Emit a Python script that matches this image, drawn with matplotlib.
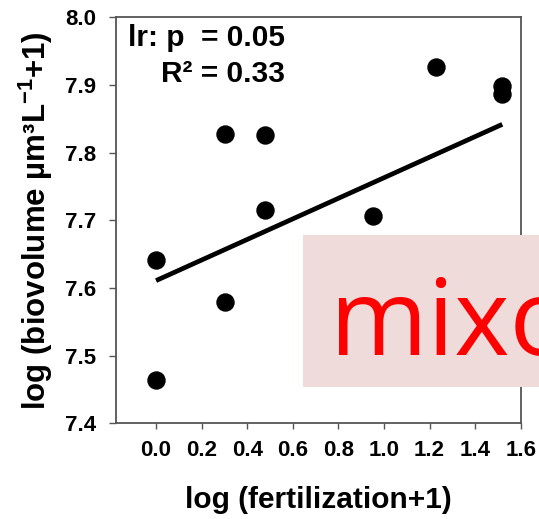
import numpy as np
import matplotlib.pyplot as plt
from matplotlib.patches import Rectangle

plt.rcParams['font.family'] = ['Liberation Sans', 'DejaVu Sans']
plt.rcParams['mathtext.fontset'] = 'custom'
plt.rcParams['mathtext.rm'] = 'Liberation Sans:bold'
plt.rcParams['mathtext.default'] = 'rm'

# data
fert_log = [0.0, 0.0, 0.301, 0.301, 0.477, 0.477, 0.954, 1.230, 1.519, 1.519]
biovol_log = [7.642, 7.464, 7.580, 7.828, 7.826, 7.715, 7.706, 7.927, 7.899, 7.887]
fit_x = [0.0, 1.519]
fit_y = [7.611, 7.842]
xticks = [0.0, 0.2, 0.4, 0.6, 0.8, 1.0, 1.2, 1.4, 1.6]
yticks = [7.4, 7.5, 7.6, 7.7, 7.8, 7.9, 8.0]

fig = plt.figure(figsize=(5.39, 5.19), dpi=100)
ax = fig.add_axes([0.2147, 0.1844, 0.7514, 0.7819])

ax.plot(fit_x, fit_y, color='black', lw=3.4, solid_capstyle='butt', zorder=2)
ax.scatter(fert_log, biovol_log, s=150, color='black', zorder=3)

ax.set_xlim(-0.177, 1.6)
ax.set_ylim(7.4, 8.0)
ax.set_xticks(xticks)
ax.set_yticks(yticks)
ax.set_xticklabels(['%.1f' % v for v in xticks], fontsize=16, fontweight='bold')
ax.set_yticklabels(['%.1f' % v for v in yticks], fontsize=16, fontweight='bold')
ax.tick_params(direction='out', width=1, color='#555555')
ax.tick_params(axis='x', length=4, pad=8)
ax.tick_params(axis='y', length=5, pad=9)
for s in ax.spines.values():
    s.set_color('#555555')
    s.set_linewidth(1.3)

ax.set_xlabel('log (fertilization+1)', fontsize=21.5, fontweight='bold', labelpad=18)
ax.set_ylabel('log (biovolume µm³L$^{-1}$+1)', fontsize=22.5, fontweight='bold', labelpad=7)

ax.text(0.417, 0.93, 'lr: p  = 0.05', transform=ax.transAxes, ha='right', va='baseline',
        fontsize=21.5, fontweight='bold')
ax.text(0.417, 0.842, 'R² = 0.33', transform=ax.transAxes, ha='right', va='baseline',
        fontsize=21.5, fontweight='bold')

# pink "mixo" label box sticking out past the axes
fig.add_artist(Rectangle((303 / 539, 1 - 387 / 519), 0.5, 152 / 519, transform=fig.transFigure,
                         facecolor='#f0dbdb', edgecolor='none', zorder=5))
fig.text(330 / 539, 1 - 355 / 519, 'mixo', color='#ff0000', fontsize=76, family='Open Sans',
         ha='left', va='baseline', zorder=6)

fig.savefig('out.png', dpi=100)
